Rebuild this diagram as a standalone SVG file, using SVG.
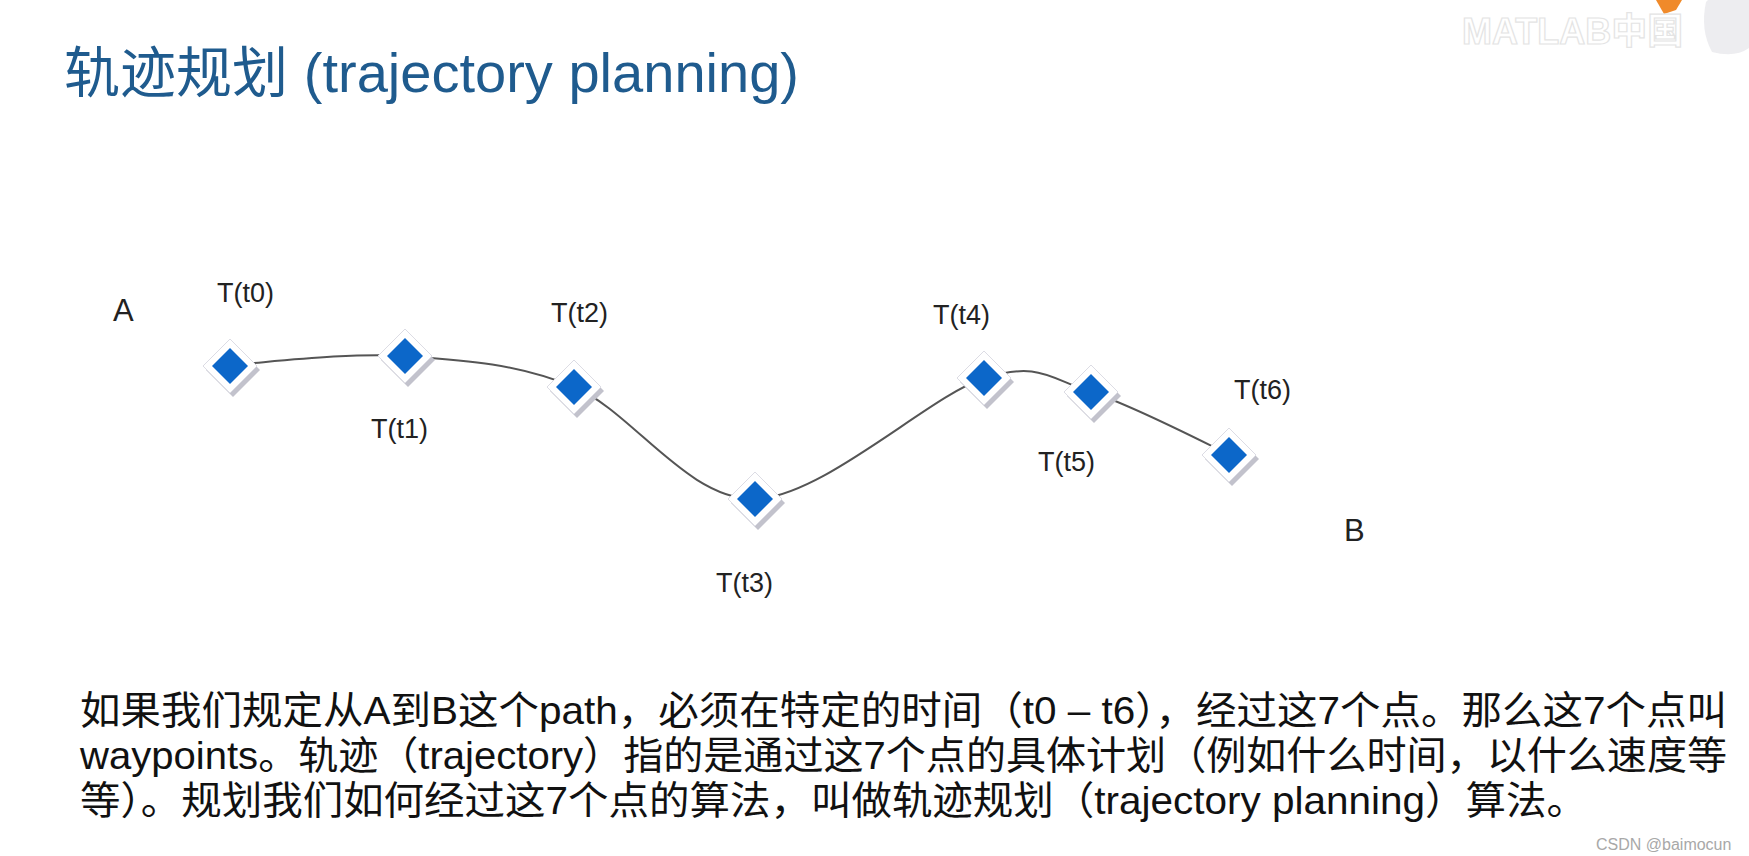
<svg xmlns="http://www.w3.org/2000/svg" xmlns:xlink="http://www.w3.org/1999/xlink" width="1749" height="856" viewBox="0 0 1749 856">
<style>
.title{font-family:"Liberation Sans","Noto Sans CJK SC",sans-serif;font-size:55px;fill:#1f5b8e}
.lbl{font-family:"Liberation Sans",sans-serif;font-size:27px;fill:#222}
.pt{font-family:"Liberation Sans",sans-serif;font-size:31px;fill:#222}
.body{font-family:"Liberation Sans","Noto Sans CJK SC",sans-serif;font-size:39px;fill:#111}
.curve{fill:none;stroke:#555;stroke-width:2}
.wm{font-family:"Liberation Sans","Noto Sans CJK SC",sans-serif;font-size:36px;font-weight:bold;fill:#fff;stroke:#e4e4e4;stroke-width:1.2}
.csdn{font-family:"Liberation Sans",sans-serif;font-size:16px;fill:#a8a8a8}
</style>
<defs>
<g id="wp">
<polygon points="3,-23 30,4 3,31 -24,4" fill="#c2c2cc"/>
<polygon points="0,-27 27,0 0,27 -27,0" fill="#ffffff" stroke="#dcdce4" stroke-width="1"/>
<polygon points="0,-18 18,0 0,18 -18,0" fill="#0c67c9"/>
</g>
</defs>
<rect width="1749" height="856" fill="#ffffff"/>
<g id="watermark">
<path d="M1656,0 L1682,0 L1676,10 L1664,14 Z" fill="#f08a2a"/>
<path d="M1706,2 Q1700,30 1712,52 Q1735,58 1749,48 L1749,0 L1708,0 Z" fill="#ededf0"/>
<text class="wm" x="1462" y="44">MATLAB中国</text>
</g>
<text id="title" class="title" x="64" y="92" textLength="735" lengthAdjust="spacingAndGlyphs">轨迹规划 (trajectory planning)</text>
<g id="connectors">
<path class="curve" d="M230,365 C259,363.5 348,352 405,356 C462,360 516,363 574,387 C632,411 687,500 755,499 C823,497 928,397 984,378 C1040,361 1050,379 1091,392 C1132,405 1207,444 1230,455"/>
</g>
<g id="A"><text class="pt" x="113" y="321">A</text></g>
<g id="B"><text class="pt" x="1344" y="541">B</text></g>
<g id="t0"><use xlink:href="#wp" x="230" y="366"/><text class="lbl" x="217" y="302">T(t0)</text></g>
<g id="t1"><use xlink:href="#wp" x="405" y="356"/><text class="lbl" x="371" y="438">T(t1)</text></g>
<g id="t2"><use xlink:href="#wp" x="574" y="387"/><text class="lbl" x="551" y="322">T(t2)</text></g>
<g id="t3"><use xlink:href="#wp" x="755" y="499"/><text class="lbl" x="716" y="592">T(t3)</text></g>
<g id="t4"><use xlink:href="#wp" x="984" y="378"/><text class="lbl" x="933" y="324">T(t4)</text></g>
<g id="t5"><use xlink:href="#wp" x="1091" y="392"/><text class="lbl" x="1038" y="471">T(t5)</text></g>
<g id="t6"><use xlink:href="#wp" x="1229" y="455"/><text class="lbl" x="1234" y="399">T(t6)</text></g>
<g id="caption">
<text class="body" x="80" y="724" textLength="1647" lengthAdjust="spacingAndGlyphs">如果我们规定从A到B这个path，必须在特定的时间（t0 – t6），经过这7个点。那么这7个点叫</text>
<text class="body" x="80" y="769" textLength="1647" lengthAdjust="spacingAndGlyphs">waypoints。轨迹（trajectory）指的是通过这7个点的具体计划（例如什么时间，以什么速度等</text>
<text class="body" x="80" y="814" textLength="1507" lengthAdjust="spacingAndGlyphs">等）。规划我们如何经过这7个点的算法，叫做轨迹规划（trajectory planning）算法。</text>
</g>
<text class="csdn" x="1596" y="850">CSDN @baimocun</text>
</svg>
